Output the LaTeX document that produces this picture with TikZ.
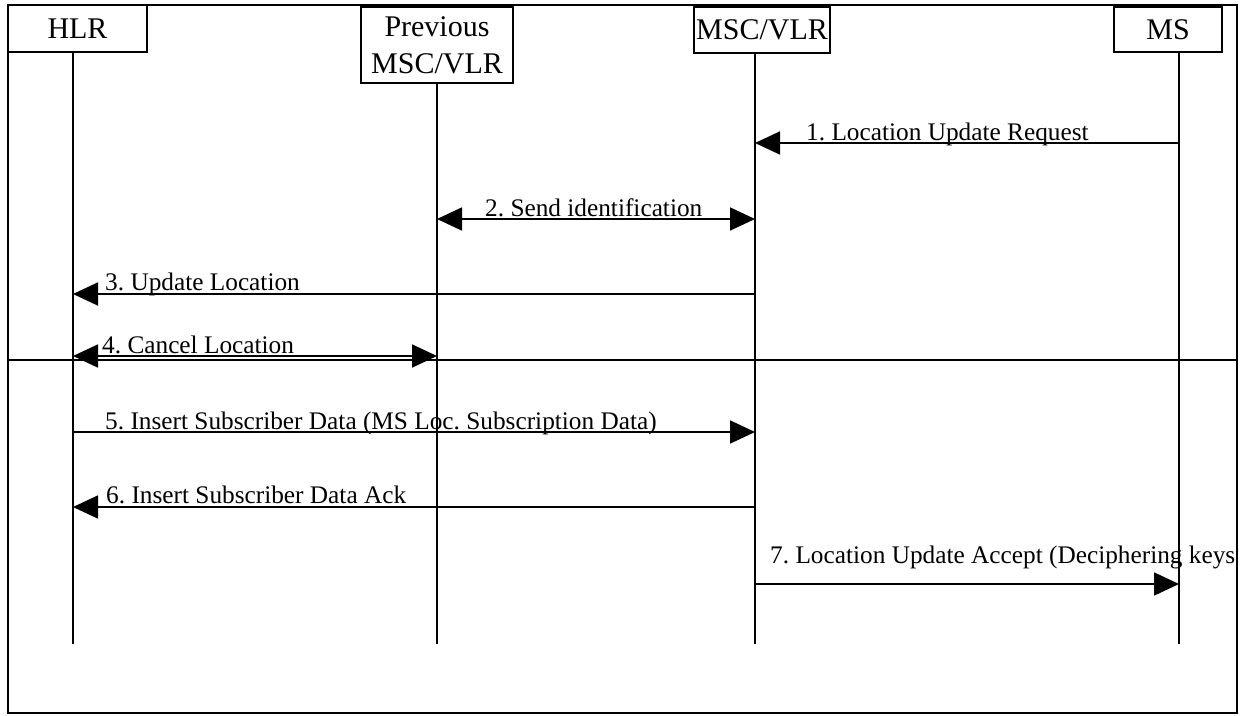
\documentclass[tikz,border=0pt]{standalone}
\usepackage{fontspec}
\setmainfont{Liberation Serif}
\usetikzlibrary{arrows.meta}
\frenchspacing
\tikzset{
  ent/.style={draw, line width=1.6pt, inner sep=0pt, align=center, font=\fontsize{30}{37}\selectfont},
  life/.style={line width=1.4pt},
  msg/.style={line width=1.8pt, -{Triangle[length=25pt,width=23pt]}},
  bimsg/.style={line width=1.8pt, {Triangle[length=25pt,width=23pt]}-{Triangle[length=25pt,width=23pt]}},
  lbl/.style={anchor=base west, inner sep=0pt, font=\fontsize{25.3}{30}\selectfont},
  frame/.style={line width=1.8pt}
}
\begin{document}
\begin{tikzpicture}[x=1pt,y=-1pt]
\useasboundingbox (0,0) rectangle (1244,715);
% outer frame
\draw[frame] (8,5) rectangle (1237,713);
% entities
\node[ent, minimum width=139pt, minimum height=47pt] (hlr) at (77.5,28.5) {HLR};
\node[ent, minimum width=152pt, minimum height=76pt] (prev) at (437,45) {Previous\\MSC/VLR};
\node[ent, minimum width=136pt, minimum height=46pt] (msc) at (762,30) {MSC/VLR};
\node[ent, minimum width=108pt, minimum height=45pt] (ms) at (1168,29.5) {MS};
% lifelines
\coordinate (lhlr) at (73,52);
\coordinate (lprev) at (437,83);
\coordinate (lmsc) at (755,53);
\coordinate (lms) at (1179,52);
\coordinate (bot) at (0,644);
\draw[life] (lhlr) -- (lhlr |- bot);
\draw[life] (lprev) -- (lprev |- bot);
\draw[life] (lmsc) -- (lmsc |- bot);
\draw[life] (lms) -- (lms |- bot);
% separator
\coordinate (sepl) at (8,360);
\coordinate (sepr) at (1237,360);
\draw[frame] (sepl) -- (sepr);
% message levels
\coordinate (y1) at (0,143);
\coordinate (y2) at (0,219);
\coordinate (y3) at (0,294);
\coordinate (y4) at (0,356);
\coordinate (y5) at (0,432);
\coordinate (y6) at (0,507);
\coordinate (y7) at (0,584);
% messages
\draw[msg] (lms |- y1) -- (lmsc |- y1);
\node[lbl] (t1) at (806,140) {1. Location Update Request};
\draw[bimsg] (lprev |- y2) -- (lmsc |- y2);
\node[lbl] (t2) at (485,216) {2. Send identification};
\draw[msg] (lmsc |- y3) -- (lhlr |- y3);
\node[lbl] (t3) at (105,290) {3. Update Location};
\draw[bimsg] (lhlr |- y4) -- (lprev |- y4);
\node[lbl] (t4) at (102,353) {4. Cancel Location};
\draw[msg] (lhlr |- y5) -- (lmsc |- y5);
\node[lbl] (t5) at (105,429) {5. Insert Subscriber Data (MS Loc. Subscription Data)};
\draw[msg] (lmsc |- y6) -- (lhlr |- y6);
\node[lbl] (t6) at (106,503) {6. Insert Subscriber Data Ack};
\draw[msg] (lmsc |- y7) -- (lms |- y7);
\node[lbl] (t7) at (770,563) {7. Location Update Accept (Deciphering keys};
\end{tikzpicture}
\end{document}
